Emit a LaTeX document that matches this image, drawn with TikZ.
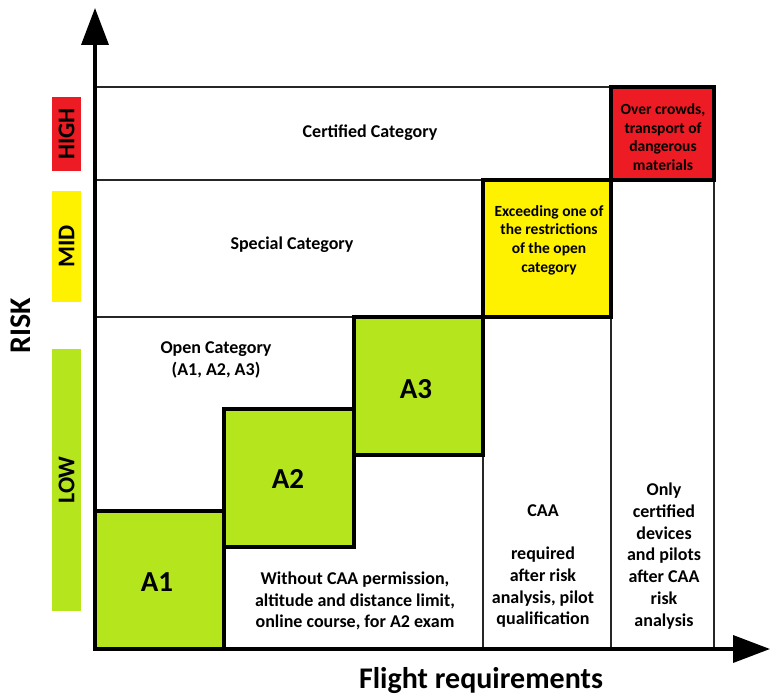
\documentclass[tikz,border=0pt]{standalone}
\usepackage{fontspec}
\setmainfont{Carlito}
\usepackage{xcolor}
\usepackage{tikz}
\usetikzlibrary{arrows.meta}

\definecolor{lowgreen}{HTML}{B5E61D}
\definecolor{midyellow}{HTML}{FFF200}
\definecolor{highred}{HTML}{ED1C24}

\begin{document}
\begin{tikzpicture}[x=1pt, y=-1pt,
    grid line/.style={draw=black!85, line width=2.2pt},
    catbox/.style={draw=black, line width=3.2pt},
    axis/.style={line width=3.6pt, -{Triangle[length=37pt, width=27pt]}},
    cattext/.style={font=\bfseries\fontsize{18}{21.7}\selectfont, align=center},
    smalltext/.style={font=\bfseries\fontsize{15.5}{18.7}\selectfont, align=center},
    bigtext/.style={font=\bfseries\fontsize{29}{34}\selectfont},
    levelbar/.style={minimum height=29pt, inner sep=0pt, rotate=90,
        font=\bfseries\fontsize{24}{28}\selectfont}]
    \useasboundingbox (0,0) rectangle (770,695);

    % Frame and grid lines
    \draw[grid line] (95,87) rectangle (714,649);
    \draw[grid line] (95,180) -- (611,180);
    \draw[grid line] (95,317) -- (483,317);
    \draw[grid line] (483,317) -- (483,649);
    \draw[grid line] (611,180) -- (611,649);

    % Coloured categories
    \draw[catbox, fill=highred] (611,87) rectangle (714,180);
    \draw[catbox, fill=midyellow] (483,180) rectangle (611,317);
    \draw[catbox, fill=lowgreen] (354,317) rectangle (483,455);
    \draw[catbox, fill=lowgreen] (224,409) rectangle (354,547);
    \draw[catbox, fill=lowgreen] (95,511) rectangle (224,649);

    % Axes
    \coordinate (origin) at (95,649);
    \coordinate (ytip) at (95,8);
    \coordinate (xtip) at (770,649);
    \draw[axis] (origin) -- (ytip);
    \draw[axis] (origin) -- (xtip);

    % Risk levels
    \node[levelbar, fill=highred, minimum width=74pt] (high) at (66.5,134) {HIGH};
    \node[levelbar, fill=midyellow, minimum width=111pt] (mid) at (66.5,246.5) {MID};
    \node[levelbar, fill=lowgreen, minimum width=262pt] (low) at (66.5,480) {LOW};

    \node[font=\bfseries\fontsize{30}{36}\selectfont, rotate=90] (risk) at (21,326) {RISK};
    \node[font=\bfseries\fontsize{30}{36}\selectfont, anchor=base] (flightreq) at (481,688.5) {Flight requirements};

    % Category texts
    \node[cattext] (certified) at (370,133) {Certified Category};
    \node[cattext] (special) at (292,245) {Special Category};
    \node[cattext] (open) at (216,360) {Open Category\\(A1, A2, A3)};
    \node[bigtext] (a1) at (157,582) {A1};
    \node[bigtext] (a2) at (288,479) {A2};
    \node[bigtext] (a3) at (416,389) {A3};
    \node[cattext] (withoutcaa) at (355,601) {Without CAA permission,\\altitude and distance limit,\\online course, for A2 exam};
    \node[cattext] (caa) at (543,566) {CAA\\[21.7pt]required\\after risk\\analysis, pilot\\qualification};
    \node[cattext] (onlycert) at (664,556) {Only\\certified\\devices\\and pilots\\after CAA\\risk\\analysis};
    \node[smalltext] (exceeding) at (549,240) {Exceeding one of\\the restrictions\\of the open\\category};
    \node[smalltext] (overcrowds) at (663,137) {Over crowds,\\transport of\\dangerous\\materials};
\end{tikzpicture}
\end{document}
